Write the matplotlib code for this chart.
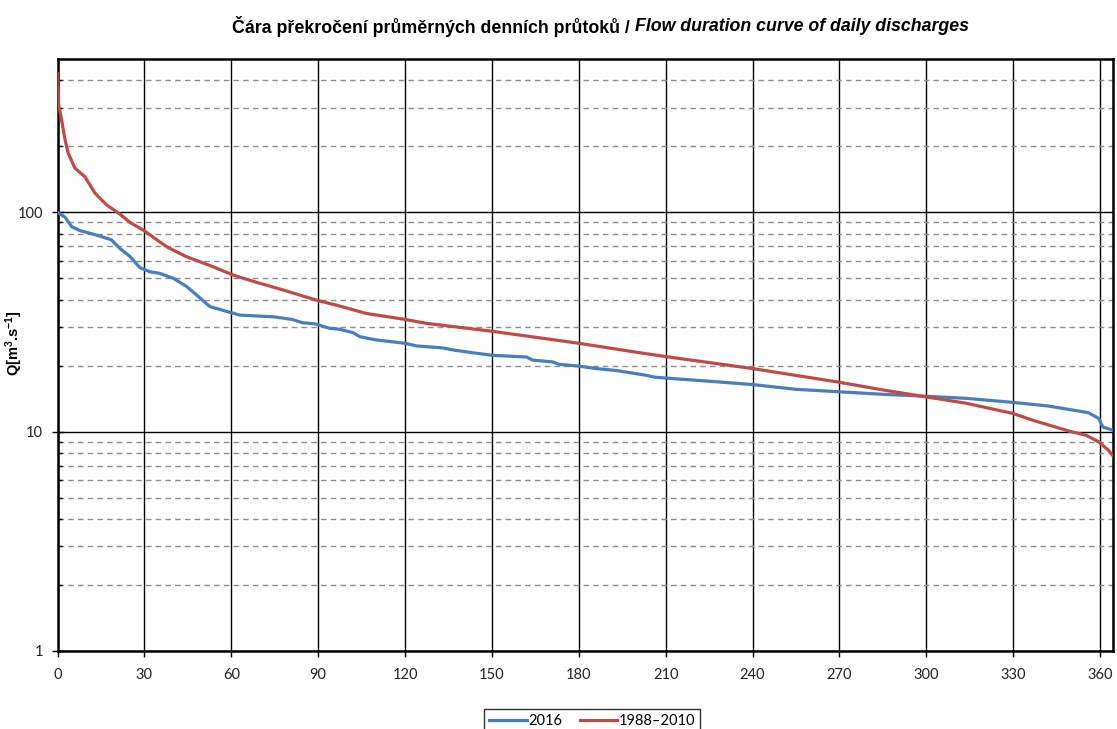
import numpy as np
import matplotlib
matplotlib.use('Agg')
import matplotlib.pyplot as plt
from matplotlib.ticker import FixedLocator, FuncFormatter, NullFormatter

plt.rcParams['mathtext.default'] = 'regular'

# flow duration curve values (day, discharge m3/s)
days_2016 = [0, 2.6, 4.9, 7.8, 12.4, 18.6, 21.5, 25, 28.4, 31.9, 35.3, 40, 44.5, 48,
             52.6, 59.5, 63, 74.5, 81, 84.5, 89, 94, 97.4, 102, 104.4, 110, 120, 124,
             133, 136.5, 143.4, 150, 162, 164, 171, 173, 180, 186, 193, 203, 206.5,
             222, 240, 255, 270, 285, 300, 313.5, 330, 342, 351.3, 356, 359.5, 361, 365]
q_2016 = [100, 95, 86, 82.5, 79.5, 75, 68.5, 63, 56, 53.6, 52.7, 50, 46, 42,
          37.2, 35, 34, 33.4, 32.5, 31.4, 31, 29.6, 29.3, 28.3, 27.1, 26.2, 25.3, 24.6,
          24.1, 23.6, 22.9, 22.3, 21.9, 21.2, 20.8, 20.3, 19.9, 19.4, 19.0, 18.1, 17.7,
          17.1, 16.4, 15.6, 15.2, 14.8, 14.5, 14.2, 13.6, 13.1, 12.5, 12.2, 11.5, 10.5, 10.1]

days_ref = [0, 0.3, 1.4, 2.6, 3.7, 6, 9.5, 13, 17, 21.6, 25, 29.6, 37.8, 44.5, 53.7,
            60.6, 66.4, 78, 89.4, 97.4, 106.6, 120, 127.3, 150, 180, 202, 210, 240,
            270, 285, 300, 313.5, 330, 336.5, 350, 355, 359.5, 363, 365]
q_ref = [430, 314, 264, 214, 186, 159, 145, 122, 108, 98, 90, 83, 69.5, 62.8, 56.5,
         51.8, 49, 44.2, 39.8, 37.4, 34.6, 32.5, 31.2, 28.7, 25.3, 22.8, 22.0, 19.4,
         16.8, 15.5, 14.4, 13.5, 12.1, 11.3, 10.0, 9.65, 9.0, 8.2, 7.6]

x_ticks = list(range(0, 361, 30))
y_major = [1, 10, 100]
y_minor = [2, 3, 4, 5, 6, 7, 8, 9, 20, 30, 40, 50, 60, 70, 80, 90, 200, 300, 400]

fig = plt.figure(figsize=(11.17, 7.29), dpi=100)
ax = fig.add_axes([0.0515, 0.107, 0.945, 0.812])

ax.set_yscale('log')
ax.set_xlim(0, 364.5)
ax.set_ylim(1, 500)

ax.plot(days_2016, q_2016, color='#4A7EBB', lw=2.3, label='2016', zorder=4)
ax.plot(days_ref, q_ref, color='#BE4B48', lw=2.3, label='1988–2010', zorder=5)

ax.xaxis.set_major_locator(FixedLocator(x_ticks))
ax.yaxis.set_major_locator(FixedLocator(y_major))
ax.yaxis.set_minor_locator(FixedLocator(y_minor))
ax.yaxis.set_major_formatter(FuncFormatter(lambda v, p: '%d' % v))
ax.yaxis.set_minor_formatter(NullFormatter())

ax.grid(which='major', axis='both', color='black', lw=1.0, ls='-')
ax.grid(which='minor', axis='y', color='#8c8c8c', lw=1.0, ls=(0, (4, 3)))
ax.set_axisbelow(True)

ax.tick_params(axis='x', which='major', direction='out', length=4, width=1,
               labelsize=10.5, pad=8)
ax.tick_params(axis='y', which='major', direction='inout', length=9, width=1,
               labelsize=10.5, pad=6)
ax.tick_params(axis='y', which='minor', direction='in', length=3, width=1)
for lab in ax.get_xticklabels() + ax.get_yticklabels():
    lab.set_fontfamily('Lato')
    lab.set_color('#222222')

for s in ax.spines.values():
    s.set_linewidth(1.8)
    s.set_color('black')

ax.set_ylabel(r'Q[m$^3$.s$^{-1}$]', fontsize=10.5, fontweight='bold',
              fontfamily='Liberation Sans')
ax.yaxis.set_label_coords(-0.031, 0.52)

# title with upright and italic parts
t1 = fig.text(0.2077, 0.963, 'Čára překročení průměrných denních průtoků / ',
              fontsize=12.75, fontweight='bold', fontfamily='Liberation Sans',
              ha='left', va='center')
fig.canvas.draw()
bb = t1.get_window_extent()
x2 = bb.x1 / fig.bbox.width
fig.text(x2, 0.963, 'Flow duration curve of daily discharges', fontsize=12.75,
         fontweight='bold', style='italic', fontfamily='Liberation Sans',
         ha='left', va='center')

leg = fig.legend(loc='upper center', bbox_to_anchor=(0.53, 1 - 702 / 729), ncol=2,
                 frameon=True, fancybox=False, edgecolor='black',
                 handlelength=2.6, handletextpad=0.1, columnspacing=1.2,
                 borderpad=0.3, prop={'family': 'Lato', 'size': 10.5})
leg.get_frame().set_linewidth(1.0)

fig.savefig('out.png', dpi=100)
